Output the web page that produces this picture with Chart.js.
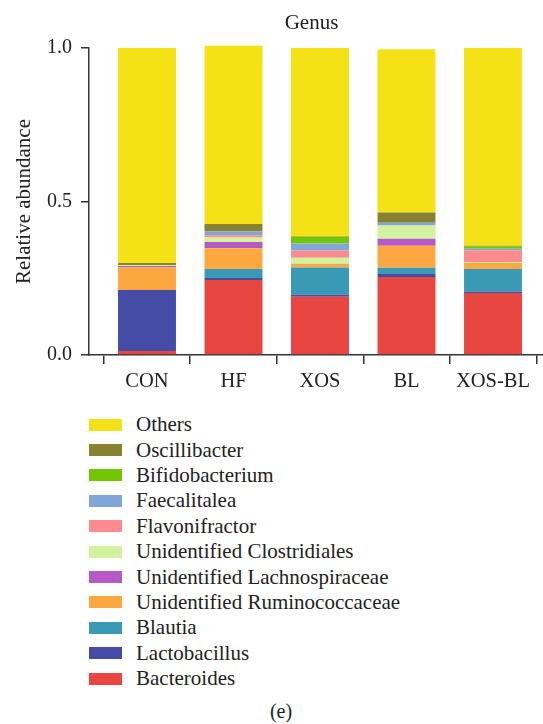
<!DOCTYPE html>
<html>
<head>
<meta charset="utf-8">
<script src="https://cdn.jsdelivr.net/npm/chart.js@4.4.1/dist/chart.umd.min.js"></script>
<style>
  body { margin: 0; background: #fff; }
  #wrap { position: relative; width: 543px; height: 724px; font-family: "Liberation Serif", "Times New Roman", serif; color: #222; }
  #c { position: absolute; left: 0; top: 0; }
  #title { position: absolute; left: 0; width: 623px; top: 9px; text-align: center; font-size: 21px; line-height: 26px; }
  #legend { position: absolute; left: 89px; top: 412px; }
  .item { height: 25.4px; display: flex; align-items: center; font-size: 21px; }
  .box { width: 33px; height: 12px; margin-right: 14px; flex: none; }
  #cap { position: absolute; left: 0; width: 562px; top: 700px; text-align: center; font-size: 20px; }
</style>
</head>
<body>
<div id="wrap">
  <canvas id="c" width="543" height="400"></canvas>
  <div id="title">Genus</div>
  <div id="legend"></div>
  <div id="cap">(e)</div>
</div>
<script>
const categories = ['CON', 'HF', 'XOS', 'BL', 'XOS-BL'];
const yTicks = [0, 0.5, 1.0];

// values per genus, in category order (bottom of stack first)
const bacteroides     = [0.013, 0.244, 0.190, 0.254, 0.202];
const lactobacillus   = [0.199, 0.007, 0.006, 0.010, 0.004];
const blautia         = [0.000, 0.029, 0.089, 0.020, 0.074];
const ruminococcaceae = [0.073, 0.068, 0.012, 0.072, 0.020];
const lachnospiraceae = [0.005, 0.020, 0.000, 0.023, 0.000];
const clostridiales   = [0.003, 0.015, 0.020, 0.043, 0.003];
const flavonifractor  = [0.000, 0.007, 0.023, 0.000, 0.038];
const faecalitalea    = [0.000, 0.013, 0.023, 0.009, 0.005];
const bifidobacterium = [0.000, 0.000, 0.022, 0.000, 0.008];
const oscillibacter   = [0.007, 0.024, 0.002, 0.033, 0.002];
const others          = [0.700, 0.580, 0.613, 0.532, 0.644];

const series = [
  ['Bacteroides', bacteroides, '#E84641'],
  ['Lactobacillus', lactobacillus, '#444CA6'],
  ['Blautia', blautia, '#3A9AB5'],
  ['Unidentified Ruminococcaceae', ruminococcaceae, '#FDA741'],
  ['Unidentified Lachnospiraceae', lachnospiraceae, '#B35AC6'],
  ['Unidentified Clostridiales', clostridiales, '#D2F2A0'],
  ['Flavonifractor', flavonifractor, '#FD8A8E'],
  ['Faecalitalea', faecalitalea, '#7FA6D6'],
  ['Bifidobacterium', bifidobacterium, '#73C500'],
  ['Oscillibacter', oscillibacter, '#868230'],
  ['Others', others, '#F5E216']
];

const FONT = '"Liberation Serif", "Times New Roman", serif';
const TXT = '#222';
const AX = '#333';

const datasets = series.map(([label, vals, color]) => ({
  label,
  data: vals.map((v, i) => ({ x: i + 1, y: v })),
  backgroundColor: color,
  borderWidth: 0,
  barPercentage: 0.67,
  categoryPercentage: 1.0,
  clip: false
}));

new Chart(document.getElementById('c'), {
  type: 'bar',
  data: { datasets },
  options: {
    responsive: false,
    animation: false,
    layout: { padding: { left: 0, right: 0, top: 48, bottom: 0 } },
    plugins: {
      legend: { display: false },
      tooltip: { enabled: false },
      title: { display: false }
    },
    scales: {
      x: {
        type: 'linear',
        stacked: true,
        min: 0.3295,
        max: 5.578,
        offset: false,
        afterBuildTicks: s => { s.ticks = categories.map((c, i) => ({ value: i + 1 })); },
        afterFit: s => { s.height = 45; },
        grid: { display: true, drawOnChartArea: false, drawTicks: true, tickLength: 9, color: AX, lineWidth: 1.5 },
        border: { display: true, color: AX, width: 1.5 },
        ticks: {
          autoSkip: false,
          maxRotation: 0,
          color: TXT,
          font: { family: FONT, size: 20.5 },
          padding: 5,
          callback: v => categories[Math.round(v) - 1] || ''
        }
      },
      y: {
        stacked: true,
        min: 0,
        max: 1,
        afterBuildTicks: s => { s.ticks = yTicks.map(v => ({ value: v })); },
        afterFit: s => { s.width = 89; },
        grid: { display: true, drawOnChartArea: false, drawTicks: true, tickLength: 8, color: AX, lineWidth: 1.5 },
        border: { display: true, color: AX, width: 1.5 },
        ticks: {
          color: TXT,
          font: { family: FONT, size: 20 },
          padding: 9,
          callback: v => Number(v).toFixed(1)
        },
        title: {
          display: true,
          text: 'Relative abundance',
          color: TXT,
          font: { family: FONT, size: 21 },
          padding: { top: 12, bottom: 0 }
        }
      }
    }
  }
});

// HTML legend built from the same series (top of stack first)
const legend = document.getElementById('legend');
series.slice().reverse().forEach(([label, , color]) => {
  const row = document.createElement('div');
  row.className = 'item';
  const box = document.createElement('span');
  box.className = 'box';
  box.style.background = color;
  const txt = document.createElement('span');
  txt.textContent = label;
  row.appendChild(box);
  row.appendChild(txt);
  legend.appendChild(row);
});
</script>
</body>
</html>
